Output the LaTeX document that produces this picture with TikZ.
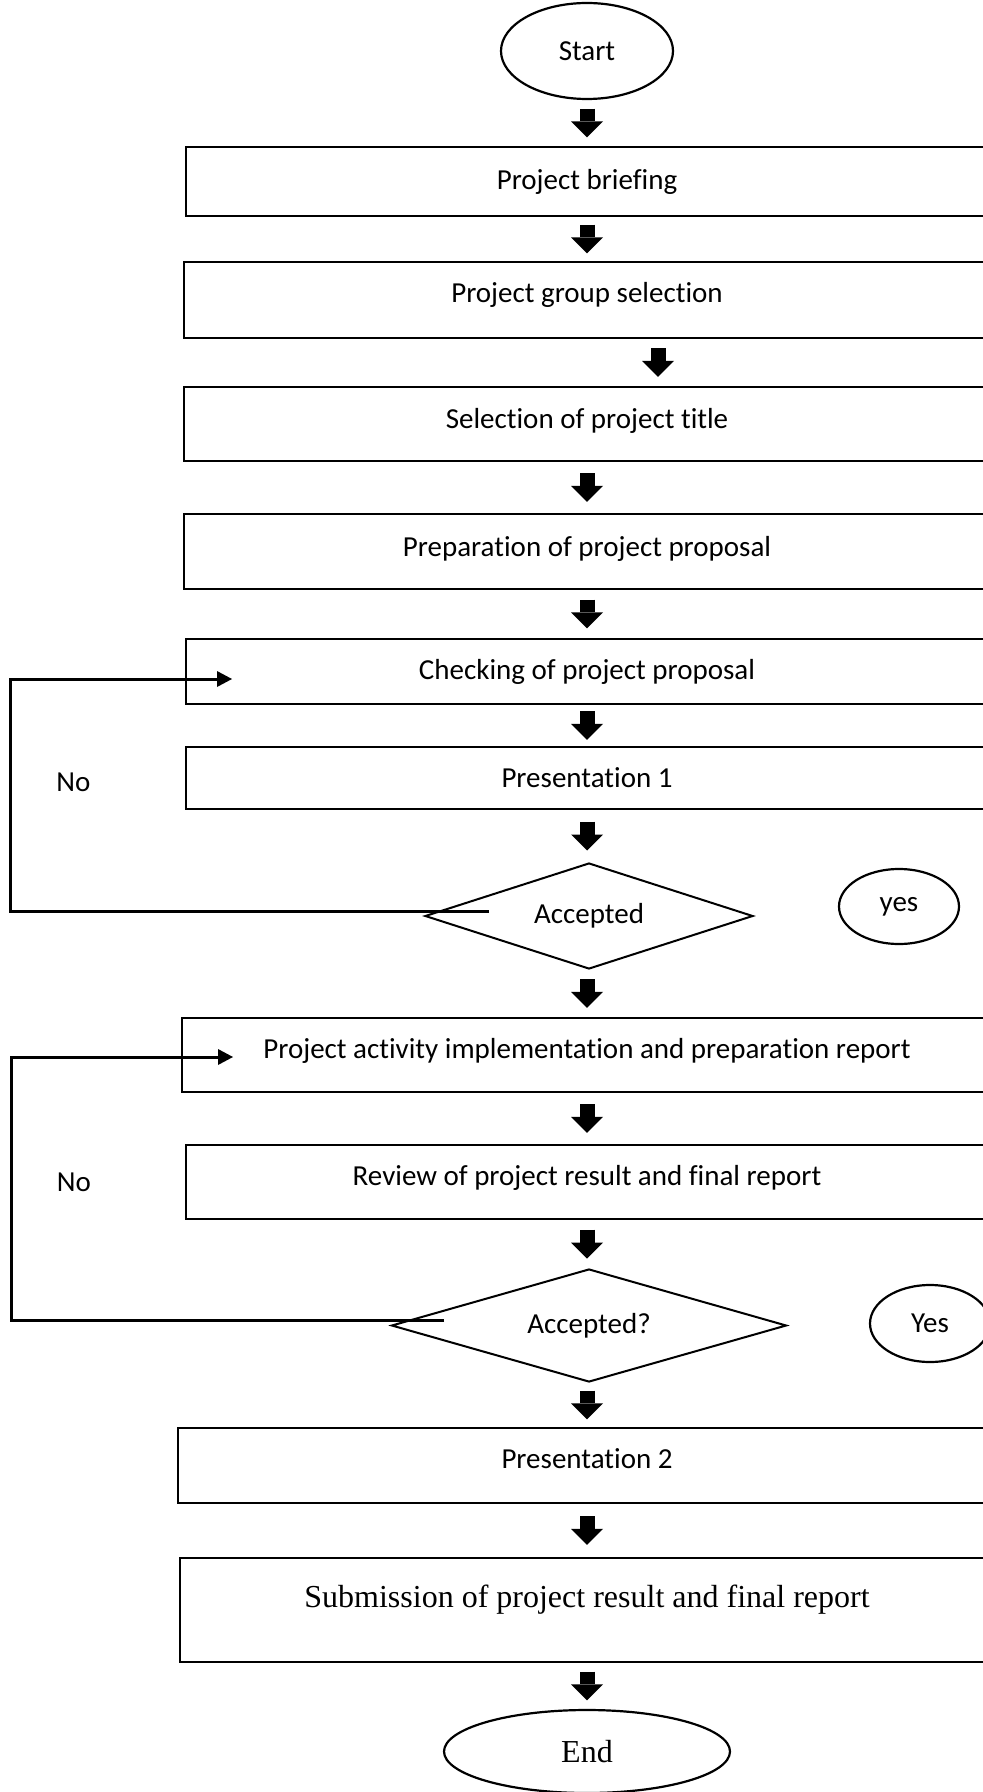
\documentclass[tikz,border=0pt]{standalone}
\usepackage{fontspec}
\setmainfont{Carlito}[Ligatures=NoCommon]
\newfontfamily\serifface{Liberation Serif}
\usetikzlibrary{shapes.geometric,arrows.meta}

\tikzset{
	procbox/.style={draw, line width=1.1pt, rectangle, minimum width=401pt, inner sep=0pt, text height=10pt},
	termnode/.style={draw, line width=1.1pt, ellipse, inner sep=0pt},
	decision/.style={draw, line width=1pt, diamond, aspect=3, inner sep=0pt},
	blockarrow/.style={line width=7.5pt, -{Triangle[width=16pt,length=8pt,line width=0pt]}, shorten <=#1, shorten >=#1},
	blockarrow/.default=4.5pt,
	backline/.style={line width=1.5pt, -{Triangle[width=8pt,length=7.5pt,line width=0pt]}},
	seriftext/.style={font=\serifface\fontsize{16}{19}\selectfont}
}

\begin{document}
\begin{tikzpicture}[x=0.5pt, y=-0.5pt, font=\fontsize{14.5}{17}\selectfont]
		\useasboundingbox (0,0) rectangle (983,1792);
		\clip (0,0) rectangle (983,1792);
		\node[termnode, minimum width=86pt, minimum height=48pt] (start) at (587,51) {Start};
		\node[procbox, minimum height=34.5pt, text depth=2pt] (brief) at (587,181.5) {Project briefing};
		\node[procbox, minimum width=403pt, minimum height=38pt, text depth=7pt] (group) at (587,300) {Project group selection};
		\node[procbox, minimum width=403pt, minimum height=37pt, text depth=6pt] (title) at (587,424) {Selection of project title};
		\node[procbox, minimum width=403pt, minimum height=37.5pt, text depth=5pt] (proposal) at (587,551.5) {Preparation of project proposal};
		\node[procbox, minimum height=32.5pt, text depth=2pt] (check) at (587,671.5) {Checking of project proposal};
		\node[procbox, minimum height=31pt, text depth=1pt] (pres1) at (587,778) {Presentation 1};
		\node[decision, minimum width=164pt, minimum height=53pt] (acc1) at (589,916) {Accepted};
		\node[termnode, minimum width=60pt, minimum height=37.5pt] (yes1) at (899,906.5) {yes};
		\node[procbox, minimum width=405pt, minimum height=37pt, text depth=7pt] (impl) at (587,1055) {Project activity implementation and preparation report};
		\node[procbox, minimum height=37pt, text depth=6.5pt] (review) at (587,1182) {Review of project result and final report};
		\node[decision, minimum width=197.5pt, minimum height=56.5pt] (acc2) at (589,1325.5) {Accepted?};
		\node[termnode, minimum width=60pt, minimum height=38.5pt] (yes2) at (930,1323.5) {Yes};
		\node[procbox, minimum width=409pt, minimum height=37.5pt, text depth=7pt] (pres2) at (587,1465.5) {Presentation 2};
		\node[procbox, seriftext, minimum width=407pt, minimum height=52pt, text height=11pt, text depth=14pt] (submit) at (587,1610) {Submission of project result and final report};
		\node[termnode, seriftext, minimum width=143pt, minimum height=41.5pt] (stop) at (587,1751.5) {End};
		\node (no1) at (73.5,782) {No};
		\node (no2) at (74,1182) {No};
		\draw[blockarrow=4.25pt] (start) -- (brief);
		\draw[blockarrow=3.75pt] (brief) -- (group);
		\draw[blockarrow=4.5pt] ([xshift=35.5pt]group.south) -- ([xshift=35.5pt]title.north);
		\draw[blockarrow=5.5pt] (title) -- (proposal);
		\draw[blockarrow=4.75pt] (proposal) -- (check);
		\draw[blockarrow=3pt] (check) -- (pres1);
		\draw[blockarrow=5.75pt] (pres1) -- (pres1 |- acc1.north);
		\draw[blockarrow=4.5pt] (impl |- acc1.south) -- (impl);
		\draw[blockarrow=5.5pt] (impl) -- (review);
		\draw[blockarrow=4.75pt] (review) -- (review |- acc2.north);
		\draw[blockarrow=3.75pt] (pres2 |- acc2.south) -- (pres2);
		\draw[blockarrow=6pt] (pres2) -- (submit);
		\draw[blockarrow=4.25pt] (submit) -- (stop);
		\draw[backline] ([xshift=-50pt,yshift=2.5pt]acc1.center) -- ++(-239.5pt,0) |- ([xshift=-177.5pt,yshift=-3.75pt]check.center);
		\draw[backline] ([xshift=-72.5pt,yshift=2.75pt]acc2.center) -- ++(-216.5pt,0) |- ([xshift=-177pt,yshift=-1pt]impl.center);
	\end{tikzpicture}
\end{document}
